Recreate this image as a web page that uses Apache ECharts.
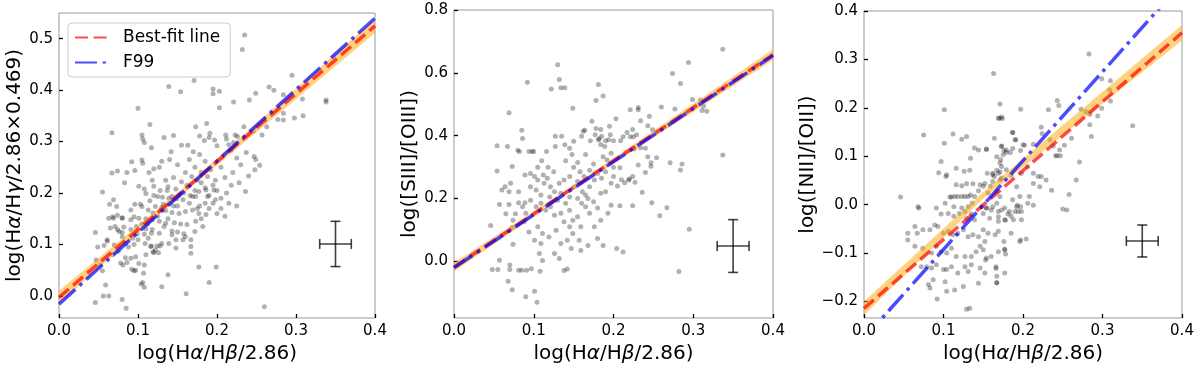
<!DOCTYPE html>
<html><head><meta charset="utf-8">
<script src="https://cdn.jsdelivr.net/npm/echarts@6/dist/echarts.min.js"></script>
<style>html,body{margin:0;padding:0;background:#fff}#c{width:1200px;height:369px}</style>
</head><body><div id="c"></div><script>
// ---------- data ----------
const xTicks = [0, 0.1, 0.2, 0.3, 0.4];
const y1Ticks = [0, 0.1, 0.2, 0.3, 0.4, 0.5];
const y2Ticks = [0, 0.2, 0.4, 0.6, 0.8];
const y3Ticks = [-0.2, -0.1, 0, 0.1, 0.2, 0.3, 0.4];

const xName = 'log(H{i|α}/H{i|β}/2.86)';
const y1Name = 'log(H{i|α}/H{i|γ}/2.86×0.469)';
const y2Name = 'log([SIII]/[OIII])';
const y3Name = 'log([NII]/[OII])';
const legendNames = ['Best-fit line', 'F99'];

const fitX = [0, 0.4];
const fit1Y = [-0.003, 0.525];
const f99_1Y = [-0.016, 0.540];
const fit2Y = [-0.018, 0.658];
const f99_2Y = [-0.020, 0.655];
const fit3Y = [-0.214, 0.355];
const f99_3Y = [-0.276, 0.458];

const bandX = [0, 0.15, 0.4];
const band1Lo = [-0.015, 0.190, 0.511];
const band1Hi = [0.010, 0.200, 0.539];
const band2Lo = [-0.032, 0.229, 0.641];
const band2Hi = [-0.004, 0.242, 0.675];
const band3Lo = [-0.228, 0.013, 0.339];
const band3Hi = [-0.200, 0.026, 0.371];

// error bar: [x, y, xerr, yerr]
const err1 = [0.35, 0.101, 0.02, 0.044];
const err2 = [0.35, 0.049, 0.02, 0.084];
const err3 = [0.35, -0.075, 0.02, 0.033];

const points1 = [
[0.235,0.507],[0.232,0.479],[0.171,0.419],[0.139,0.407],[0.154,0.397],[0.195,0.402],[0.203,0.398],[0.195,0.393],[0.221,0.377],[0.249,0.394],[0.241,0.381],[0.266,0.406],[0.272,0.400],[0.284,0.391],[0.295,0.429],[0.308,0.383],[0.338,0.381],[0.338,0.377],[0.309,0.350],[0.298,0.346],[0.284,0.355],[0.277,0.343],[0.284,0.342],[0.263,0.329],[0.257,0.313],[0.246,0.320],[0.234,0.329],[0.223,0.313],[0.237,0.279],[0.247,0.271],[0.249,0.265],[0.254,0.254],[0.248,0.245],[0.236,0.203],[0.203,0.366],[0.100,0.365],[0.115,0.333],[0.067,0.317],[0.105,0.313],[0.106,0.305],[0.108,0.298],[0.117,0.288],[0.133,0.308],[0.145,0.312],[0.142,0.280],[0.155,0.293],[0.163,0.293],[0.178,0.311],[0.184,0.302],[0.191,0.316],[0.190,0.308],[0.197,0.303],[0.200,0.292],[0.211,0.313],[0.215,0.294],[0.221,0.298],[0.173,0.329],[0.187,0.335],
[0.212,0.305],[0.226,0.310],[0.218,0.283],[0.225,0.268],[0.230,0.255],[0.240,0.233],[0.220,0.240],[0.205,0.250],[0.210,0.230],[0.198,0.225],[0.192,0.245],[0.185,0.262],[0.178,0.275],[0.170,0.280],[0.165,0.265],[0.172,0.250],[0.180,0.240],[0.188,0.232],[0.195,0.215],[0.200,0.205],[0.205,0.190],[0.212,0.200],[0.218,0.215],[0.228,0.220],[0.190,0.195],[0.185,0.210],[0.175,0.225],[0.168,0.232],[0.160,0.240],[0.150,0.255],[0.140,0.265],[0.130,0.262],[0.127,0.250],[0.120,0.247],[0.114,0.240],
[0.135,0.225],[0.145,0.230],[0.155,0.222],[0.162,0.215],[0.148,0.208],[0.138,0.212],[0.128,0.205],[0.118,0.225],[0.172,0.205],[0.180,0.220],[0.158,0.200],[0.166,0.195],[0.195,0.180],[0.185,0.180],[0.178,0.175],[0.175,0.170],[0.205,0.170],[0.215,0.180],[0.150,0.175],[0.140,0.180],[0.132,0.178],
[0.067,0.239],[0.074,0.243],[0.083,0.220],[0.055,0.202],[0.092,0.261],[0.105,0.264],[0.106,0.258],[0.096,0.244],[0.086,0.240],[0.069,0.187],[0.064,0.178],[0.073,0.174],[0.063,0.151],[0.069,0.151],[0.080,0.152],[0.071,0.135],[0.076,0.125],[0.080,0.123],[0.061,0.109],[0.057,0.098],[0.046,0.123],[0.049,0.095],[0.047,0.070],[0.052,0.060],[0.055,0.049],[0.059,0.021],[0.056,0.000],[0.063,0.000],[0.046,-0.013],[0.080,-0.007],[0.085,-0.024],[0.081,0.060],[0.092,0.052],[0.095,0.049],[0.091,0.073],[0.104,0.023],[0.108,0.017],[0.107,0.044],[0.130,0.018],[0.138,0.041],[0.161,0.004],[0.190,0.026],[0.177,0.056],[0.199,0.056],[0.167,0.083],[0.167,0.096],[0.167,0.109],[0.148,0.093],[0.148,0.109],[0.143,0.126],[0.128,0.097],[0.124,0.097],[0.117,0.097],[0.119,0.086],[0.117,0.122],[0.260,-0.021],
[0.101,0.213],[0.108,0.208],[0.110,0.199],[0.120,0.213],[0.125,0.193],[0.131,0.192],[0.139,0.190],[0.143,0.193],[0.149,0.189],[0.157,0.187],[0.165,0.180],[0.169,0.193],[0.173,0.193],[0.177,0.203],[0.186,0.206],[0.188,0.193],[0.196,0.206],[0.198,0.187],[0.103,0.178],[0.096,0.178],[0.091,0.167],[0.095,0.154],[0.105,0.174],[0.113,0.167],[0.119,0.161],[0.122,0.174],[0.129,0.167],[0.135,0.166],[0.143,0.162],[0.152,0.160],[0.160,0.164],[0.169,0.167],[0.177,0.160],[0.186,0.158],[0.080,0.151],[0.091,0.148],[0.101,0.151],[0.110,0.150],[0.118,0.148],[0.127,0.145],[0.135,0.141],[0.146,0.142],[0.154,0.140],[0.162,0.139],[0.173,0.145],[0.068,0.154],[0.074,0.157],[0.065,0.132],[0.074,0.129],[0.082,0.134],[0.091,0.129],[0.099,0.121],[0.110,0.130],[0.118,0.129],[0.127,0.122],[0.133,0.135],[0.143,0.119],[0.150,0.124],[0.158,0.121],[0.061,0.106],[0.070,0.099],[0.080,0.115],[0.084,0.102],[0.093,0.112],[0.100,0.109],[0.109,0.102],[0.116,0.096],[0.122,0.089],[0.130,0.102],[0.139,0.102],[0.160,0.115],[0.157,0.109],[0.068,0.080],[0.075,0.087],[0.084,0.074],[0.097,0.076],[0.101,0.063],[0.108,0.060],[0.120,0.084],[0.126,0.084],[0.097,0.050],[0.078,0.064],[0.086,0.065],[0.106,0.026],[0.112,0.140],[0.125,0.155],[0.138,0.150],[0.105,0.140],[0.098,0.135],[0.130,0.172],[0.137,0.205],[0.115,0.185],[0.120,0.195],[0.145,0.175],[0.152,0.195],[0.108,0.120],[0.088,0.095],[0.095,0.100],[0.110,0.080],[0.113,0.112],[0.180,0.150],[0.190,0.170],[0.200,0.160],[0.210,0.155],[0.225,0.175],[0.182,0.135],[0.172,0.125]
];

const points2 = [
[0.130,0.626],[0.132,0.579],[0.134,0.553],[0.139,0.553],[0.122,0.549],[0.092,0.570],[0.181,0.563],[0.187,0.526],[0.178,0.512],[0.149,0.487],[0.337,0.675],[0.294,0.633],[0.284,0.566],[0.274,0.598],[0.277,0.485],[0.260,0.491],[0.299,0.515],[0.309,0.514],[0.311,0.480],[0.313,0.494],[0.317,0.478],[0.221,0.483],[0.231,0.490],[0.231,0.483],[0.203,0.454],[0.234,0.448],[0.245,0.462],[0.173,0.446],[0.164,0.417],[0.178,0.423],[0.184,0.420],[0.195,0.430],[0.224,0.420],[0.217,0.410],[0.212,0.397],[0.243,0.432],[0.249,0.419],[0.229,0.403],[0.225,0.397],[0.221,0.397],[0.209,0.384],[0.200,0.384],[0.190,0.384],[0.184,0.372],[0.182,0.390],[0.171,0.384],[0.234,0.362],[0.240,0.360],[0.226,0.358],[0.271,0.314],[0.286,0.310],[0.284,0.291],[0.247,0.314],[0.247,0.303],[0.240,0.283],[0.254,0.330],[0.243,0.333],[0.231,0.307],[0.224,0.270],[0.219,0.259],[0.227,0.252],[0.236,0.220],[0.210,0.260],[0.214,0.250],[0.220,0.262],[0.208,0.298],[0.200,0.300],[0.192,0.323],[0.197,0.344],[0.187,0.333],[0.208,0.177],[0.224,0.177],[0.248,0.187],[0.267,0.171],[0.258,0.145],[0.295,0.102],[0.282,-0.032],[0.337,0.339],[0.204,0.041],[0.212,0.030],[0.187,0.051],
[0.069,0.473],[0.085,0.417],[0.086,0.391],[0.098,0.350],[0.100,0.350],[0.094,0.350],[0.080,0.354],[0.082,0.350],[0.116,0.350],[0.127,0.398],[0.135,0.398],[0.127,0.366],[0.139,0.371],[0.145,0.360],[0.150,0.382],[0.160,0.398],[0.162,0.414],[0.177,0.403],[0.181,0.387],[0.185,0.398],[0.189,0.366],[0.194,0.387],[0.196,0.403],[0.054,0.368],[0.067,0.366],[0.054,0.288],[0.073,0.302],[0.064,0.238],[0.060,0.227],[0.069,0.222],[0.071,0.249],[0.081,0.222],[0.089,0.275],[0.057,0.181],[0.069,0.181],[0.065,0.152],[0.077,0.152],[0.081,0.187],[0.089,0.187],[0.046,0.114],[0.073,0.108],[0.074,0.055],[0.074,0.131],[0.057,0.004],[0.048,-0.026],[0.055,-0.026],[0.070,-0.011],[0.070,-0.026],[0.081,-0.028],[0.085,-0.028],[0.091,-0.028],[0.097,-0.023],[0.108,-0.031],[0.068,-0.063],[0.073,-0.090],[0.090,-0.112],[0.101,-0.095],[0.104,-0.130],
[0.096,0.280],[0.101,0.270],[0.105,0.259],[0.096,0.238],[0.103,0.227],[0.109,0.211],[0.113,0.249],[0.117,0.265],[0.121,0.238],[0.126,0.222],[0.134,0.217],[0.132,0.249],[0.138,0.259],[0.145,0.270],[0.151,0.238],[0.155,0.254],[0.161,0.222],[0.165,0.211],[0.170,0.238],[0.176,0.259],[0.184,0.217],[0.190,0.222],[0.197,0.249],
[0.096,0.195],[0.103,0.174],[0.109,0.185],[0.115,0.163],[0.121,0.174],[0.126,0.147],[0.134,0.153],[0.138,0.126],[0.145,0.163],[0.149,0.131],[0.155,0.142],[0.159,0.110],[0.165,0.174],[0.170,0.153],[0.176,0.110],[0.184,0.131],[0.193,0.153],[0.197,0.179],[0.105,0.110],[0.111,0.089],[0.119,0.078],[0.128,0.099],[0.134,0.057],[0.142,0.067],[0.149,0.089],[0.157,0.067],[0.168,0.051],[0.180,0.073],[0.107,0.025],[0.111,0.003],[0.126,0.025],[0.132,0.009],[0.138,-0.029],[0.142,-0.024],[0.147,0.041],[0.159,0.035],[0.145,0.110],[0.109,0.057],[0.101,0.067],[0.094,0.094],[0.088,0.126],[0.090,0.153],[0.086,0.174],
[0.150,0.300],[0.158,0.285],[0.163,0.270],[0.170,0.290],[0.175,0.310],[0.180,0.280],[0.185,0.265],[0.190,0.285],[0.200,0.270],[0.205,0.240],[0.168,0.200],[0.175,0.190],[0.180,0.170],[0.160,0.185],[0.155,0.200],[0.145,0.205],[0.140,0.185],[0.130,0.195],[0.120,0.205],[0.125,0.285],[0.118,0.300],[0.110,0.320],[0.105,0.300],[0.112,0.275],[0.140,0.320],[0.148,0.340],[0.165,0.340],[0.155,0.315]
];

const points3 = [
[0.163,0.271],[0.171,0.208],[0.173,0.181],[0.169,0.179],[0.197,0.197],[0.101,0.196],[0.075,0.144],[0.101,0.127],[0.112,0.146],[0.123,0.135],[0.129,0.141],[0.097,0.089],[0.094,0.066],
[0.104,0.062],[0.103,0.058],[0.116,0.075],[0.126,0.069],[0.133,0.071],[0.134,0.096],[0.139,0.117],[0.144,0.113],[0.154,0.115],[0.164,0.137],[0.173,0.120],[0.176,0.112],[0.179,0.108],[0.184,0.108],[0.187,0.149],[0.190,0.134],[0.200,0.124],[0.197,0.112],
[0.172,0.093],[0.171,0.086],[0.173,0.079],[0.167,0.071],[0.169,0.065],[0.162,0.062],[0.171,0.051],[0.162,0.048],[0.159,0.038],[0.167,0.027],
[0.046,0.016],[0.068,-0.004],[0.069,-0.007],[0.091,-0.007],[0.102,0.003],[0.108,0.016],[0.110,0.016],[0.114,0.017],[0.118,0.017],[0.123,0.017],[0.127,0.017],[0.131,0.017],[0.134,0.020],[0.139,0.017],[0.144,0.029],[0.146,0.041],[0.150,0.038],[0.137,0.043],[0.129,0.043],[0.123,0.039],[0.116,0.041],[0.152,0.044],[0.156,0.024],[0.123,-0.007],[0.127,-0.014],[0.136,0.003],[0.131,-0.004],[0.113,-0.004],[0.097,-0.019],[0.106,-0.018],[0.113,-0.024],[0.120,-0.018],[0.129,-0.028],[0.135,-0.019],[0.139,-0.031],
[0.148,-0.004],[0.154,-0.007],[0.160,-0.011],[0.169,-0.014],[0.173,-0.011],[0.177,-0.007],[0.181,-0.019],[0.185,-0.024],[0.192,-0.004],[0.194,-0.014],[0.198,-0.014],[0.198,-0.031],[0.188,-0.031],[0.177,-0.031],[0.169,-0.034],
[0.055,-0.059],[0.055,-0.073],[0.064,-0.045],[0.067,-0.059],[0.074,-0.052],[0.083,-0.052],[0.089,-0.042],[0.093,-0.045],[0.100,-0.059],[0.106,-0.055],[0.112,-0.062],[0.118,-0.059],[0.125,-0.052],[0.131,-0.066],[0.137,-0.062],[0.144,-0.066],[0.150,-0.052],[0.156,-0.059],[0.165,-0.062],[0.169,-0.055],[0.176,-0.076],[0.196,-0.076],[0.185,-0.059],
[0.064,-0.086],[0.074,-0.090],[0.085,-0.100],[0.091,-0.086],[0.097,-0.097],[0.104,-0.100],[0.110,-0.090],[0.116,-0.107],[0.127,-0.107],[0.135,-0.107],[0.141,-0.097],[0.146,-0.086],[0.150,-0.093],[0.154,-0.110],[0.160,-0.107],[0.169,-0.097],[0.177,-0.093],[0.152,-0.076],
[0.072,-0.128],[0.079,-0.128],[0.085,-0.131],[0.091,-0.124],[0.100,-0.134],[0.104,-0.134],[0.110,-0.128],[0.118,-0.141],[0.127,-0.128],[0.131,-0.138],[0.135,-0.124],[0.146,-0.131],[0.152,-0.141],[0.167,-0.148],[0.177,-0.141],
[0.081,-0.165],[0.083,-0.172],[0.087,-0.155],[0.102,-0.159],[0.114,-0.176],[0.125,-0.169],[0.144,-0.162],[0.167,-0.161],[0.092,-0.195],[0.104,-0.179],[0.129,-0.216],[0.133,-0.214],
[0.283,0.311],[0.170,0.178],[0.174,0.178],[0.243,0.215],[0.245,0.205],[0.232,0.196],[0.273,0.197],[0.279,0.192],[0.284,0.187],[0.294,0.183],[0.299,0.260],[0.310,0.256],[0.310,0.214],[0.309,0.237],[0.299,0.199],[0.338,0.163],[0.284,0.165],[0.286,0.141],[0.261,0.137],[0.271,0.088],[0.267,0.051],[0.258,0.021],[0.250,-0.009],[0.255,-0.011],
[0.241,0.101],[0.243,0.101],[0.247,0.101],[0.252,0.123],[0.246,0.113],[0.238,0.121],[0.234,0.134],[0.223,0.160],[0.224,0.147],[0.213,0.125],[0.202,0.123],[0.187,0.149],[0.191,0.134],[0.187,0.116],[0.179,0.113],[0.173,0.121],[0.175,0.103],[0.167,0.099],[0.154,0.114],[0.155,0.065],[0.162,0.065],[0.164,0.058],[0.171,0.068],[0.173,0.055],[0.179,0.072],[0.185,0.061],[0.192,0.037],[0.198,0.065],[0.206,0.079],[0.213,0.065],[0.219,0.058],[0.223,0.058],[0.229,0.051],[0.236,0.030],[0.221,0.037],[0.213,0.044],[0.208,0.017],[0.206,0.003],[0.213,-0.001],[0.196,0.017],[0.187,0.010],[0.193,-0.001],[0.183,-0.014],[0.190,-0.014],[0.197,-0.004],[0.171,0.017],[0.167,0.003],[0.162,-0.004],[0.154,-0.007],[0.150,-0.018],[0.158,-0.028],[0.169,-0.025],[0.178,-0.032],[0.197,-0.073],[0.204,-0.071],[0.177,-0.092],[0.178,-0.102],[0.166,-0.128],[0.166,-0.132],[0.153,-0.114],[0.167,-0.161]
];

// ---------- chart ----------
const FONT = 'DejaVu Sans';
const fmt = v => { const r = Math.round(v * 10) / 10; return (r < 0 ? '\u2212' : '') + Math.abs(r).toFixed(1); };
const rich = { i: { fontStyle: 'italic', fontFamily: FONT, fontSize: 20, color: '#000' } };

const panels = [
  { grid: { left: 59, top: 13, width: 316, height: 305 }, yMin: -0.043, yMax: 0.55, yTicks: y1Ticks, yName: y1Name, yGap: 34,
    pts: points1, fit: fit1Y, f99: f99_1Y, lo: band1Lo, hi: band1Hi, err: err1 },
  { grid: { left: 454, top: 10, width: 319, height: 308 }, yMin: -0.18, yMax: 0.8, yTicks: y2Ticks, yName: y2Name, yGap: 32,
    pts: points2, fit: fit2Y, f99: f99_2Y, lo: band2Lo, hi: band2Hi, err: err2 },
  { grid: { left: 864, top: 11, width: 318, height: 307 }, yMin: -0.234, yMax: 0.4, yTicks: y3Ticks, yName: y3Name, yGap: 46,
    pts: points3, fit: fit3Y, f99: f99_3Y, lo: band3Lo, hi: band3Hi, err: err3 }
];

const grids = [], xAxes = [], yAxes = [], series = [];
panels.forEach((p, gi) => {
  grids.push(Object.assign({ show: true, borderColor: '#999', borderWidth: 1, backgroundColor: 'transparent', z: 0 }, p.grid));
  xAxes.push({
    type: 'value', gridIndex: gi, min: 0, max: 0.4,
    name: xName, nameLocation: 'middle', nameGap: 23,
    nameTextStyle: { fontFamily: FONT, fontSize: 20, color: '#000', rich: rich },
    axisLine: { show: false, onZero: false },
    axisTick: { show: true, inside: true, length: 4, lineStyle: { color: '#000', width: 1.3 }, customValues: xTicks },
    axisLabel: { customValues: xTicks, formatter: fmt, fontFamily: FONT, fontSize: 15, color: '#000', margin: 6, showMinLabel: true, showMaxLabel: true },
    splitLine: { show: false }
  });
  yAxes.push({
    type: 'value', gridIndex: gi, min: p.yMin, max: p.yMax,
    name: p.yName, nameLocation: 'middle', nameGap: p.yGap,
    nameTextStyle: { fontFamily: FONT, fontSize: 20, color: '#000', rich: rich },
    axisLine: { show: false, onZero: false },
    axisTick: { show: true, inside: true, length: 4, lineStyle: { color: '#000', width: 1.3 }, customValues: p.yTicks },
    axisLabel: { customValues: p.yTicks, formatter: fmt, fontFamily: FONT, fontSize: 15, color: '#000', margin: 6, showMinLabel: true, showMaxLabel: true },
    splitLine: { show: false }
  });
  series.push({
    type: 'scatter', xAxisIndex: gi, yAxisIndex: gi, data: p.pts, symbolSize: 5, silent: true, z: 1,
    itemStyle: { color: 'rgba(0,0,0,0.38)', borderWidth: 0 }
  });
  series.push({
    type: 'custom', xAxisIndex: gi, yAxisIndex: gi, silent: true, z: 2, clip: true, data: [[0.2, 0.1]],
    renderItem: (params, api) => {
      const pts = [];
      for (let i = 0; i < bandX.length; i++) pts.push(api.coord([bandX[i], p.hi[i]]));
      for (let i = bandX.length - 1; i >= 0; i--) pts.push(api.coord([bandX[i], p.lo[i]]));
      return { type: 'polygon', shape: { points: pts }, style: { fill: 'rgba(255,165,0,0.5)' } };
    }
  });
  series.push({
    type: 'line', name: gi === 0 ? legendNames[0] : 'fit' + gi, xAxisIndex: gi, yAxisIndex: gi, z: 3,
    data: fitX.map((x, i) => [x, p.fit[i]]), symbol: 'none', silent: true, clip: true,
    lineStyle: { color: 'rgba(255,0,0,0.7)', width: 3.5, type: [13, 5.6], cap: 'butt' },
    itemStyle: { color: 'rgba(255,0,0,0.7)' }
  });
  series.push({
    type: 'line', name: gi === 0 ? legendNames[1] : 'f99' + gi, xAxisIndex: gi, yAxisIndex: gi, z: 4,
    data: fitX.map((x, i) => [x, p.f99[i]]), symbol: 'none', silent: true, clip: true,
    lineStyle: { color: 'rgba(0,0,255,0.7)', width: 3.5, type: [22, 5.6, 3.5, 5.6], cap: 'butt' },
    itemStyle: { color: 'rgba(0,0,255,0.7)' }
  });
  series.push({
    type: 'custom', xAxisIndex: gi, yAxisIndex: gi, silent: true, z: 5, data: [p.err],
    renderItem: (params, api) => {
      const x = api.value(0), y = api.value(1), xe = api.value(2), ye = api.value(3);
      const l = api.coord([x - xe, y]), r = api.coord([x + xe, y]);
      const t = api.coord([x, y + ye]), b = api.coord([x, y - ye]);
      const cap = 5;
      const st = { stroke: 'rgba(0,0,0,0.75)', lineWidth: 1.6 };
      const ln = (x1, y1, x2, y2) => ({ type: 'line', shape: { x1, y1, x2, y2 }, style: st });
      return { type: 'group', children: [
        ln(l[0], l[1], r[0], r[1]), ln(t[0], t[1], b[0], b[1]),
        ln(l[0], l[1] - cap, l[0], l[1] + cap), ln(r[0], r[1] - cap, r[0], r[1] + cap),
        ln(t[0] - cap, t[1], t[0] + cap, t[1]), ln(b[0] - cap, b[1], b[0] + cap, b[1])
      ] };
    }
  });
});

const chart = echarts.init(document.getElementById('c'), null, { renderer: 'canvas' });
chart.setOption({
  animation: false,
  backgroundColor: '#fff',
  grid: grids, xAxis: xAxes, yAxis: yAxes, series: series,
  legend: {
    data: legendNames, left: 68, top: 23, orient: 'vertical',
    itemWidth: 34, itemHeight: 12, itemGap: 8,
    itemStyle: { opacity: 0 },
    borderColor: '#ccc', borderWidth: 1, borderRadius: 4, padding: [6, 10, 6, 6],
    backgroundColor: 'rgba(255,255,255,0.8)',
    textStyle: { fontFamily: FONT, fontSize: 17, color: '#000', padding: [0, 0, 0, 9] },
    selectedMode: false
  }
});
</script></body></html>
